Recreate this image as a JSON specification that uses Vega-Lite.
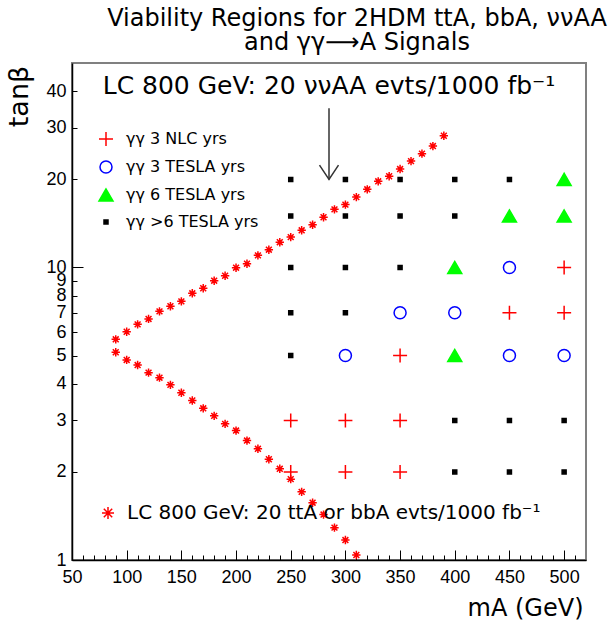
{
  "$schema": "https://vega.github.io/schema/vega-lite/v6.json",
  "width": 514,
  "height": 497,
  "autosize": {"type": "none"},
  "padding": {"left": 72, "top": 63, "right": 29, "bottom": 71},
  "title": {
    "text": ["Viability Regions for 2HDM ttA, bbA, ννAA", "and γγ⟶A Signals"],
    "fontSize": 24,
    "fontWeight": "normal",
    "font": "DejaVu Sans",
    "color": "black",
    "anchor": "middle",
    "dx": 28,
    "lineHeight": 24.5,
    "offset": 8
  },
  "datasets": {
    "grid": [
      {"m": 250, "tan": 20, "type": "γγ >6 TESLA yrs"},
      {"m": 300, "tan": 20, "type": "γγ >6 TESLA yrs"},
      {"m": 350, "tan": 20, "type": "γγ >6 TESLA yrs"},
      {"m": 400, "tan": 20, "type": "γγ >6 TESLA yrs"},
      {"m": 450, "tan": 20, "type": "γγ >6 TESLA yrs"},
      {"m": 500, "tan": 20, "type": "γγ 6 TESLA yrs"},
      {"m": 250, "tan": 15, "type": "γγ >6 TESLA yrs"},
      {"m": 300, "tan": 15, "type": "γγ >6 TESLA yrs"},
      {"m": 350, "tan": 15, "type": "γγ >6 TESLA yrs"},
      {"m": 400, "tan": 15, "type": "γγ >6 TESLA yrs"},
      {"m": 450, "tan": 15, "type": "γγ 6 TESLA yrs"},
      {"m": 500, "tan": 15, "type": "γγ 6 TESLA yrs"},
      {"m": 250, "tan": 10, "type": "γγ >6 TESLA yrs"},
      {"m": 300, "tan": 10, "type": "γγ >6 TESLA yrs"},
      {"m": 350, "tan": 10, "type": "γγ >6 TESLA yrs"},
      {"m": 400, "tan": 10, "type": "γγ 6 TESLA yrs"},
      {"m": 450, "tan": 10, "type": "γγ 3 TESLA yrs"},
      {"m": 500, "tan": 10, "type": "γγ 3 NLC yrs"},
      {"m": 250, "tan": 7, "type": "γγ >6 TESLA yrs"},
      {"m": 300, "tan": 7, "type": "γγ >6 TESLA yrs"},
      {"m": 350, "tan": 7, "type": "γγ 3 TESLA yrs"},
      {"m": 400, "tan": 7, "type": "γγ 3 TESLA yrs"},
      {"m": 450, "tan": 7, "type": "γγ 3 NLC yrs"},
      {"m": 500, "tan": 7, "type": "γγ 3 NLC yrs"},
      {"m": 250, "tan": 5, "type": "γγ >6 TESLA yrs"},
      {"m": 300, "tan": 5, "type": "γγ 3 TESLA yrs"},
      {"m": 350, "tan": 5, "type": "γγ 3 NLC yrs"},
      {"m": 400, "tan": 5, "type": "γγ 6 TESLA yrs"},
      {"m": 450, "tan": 5, "type": "γγ 3 TESLA yrs"},
      {"m": 500, "tan": 5, "type": "γγ 3 TESLA yrs"},
      {"m": 250, "tan": 3, "type": "γγ 3 NLC yrs"},
      {"m": 300, "tan": 3, "type": "γγ 3 NLC yrs"},
      {"m": 350, "tan": 3, "type": "γγ 3 NLC yrs"},
      {"m": 400, "tan": 3, "type": "γγ >6 TESLA yrs"},
      {"m": 450, "tan": 3, "type": "γγ >6 TESLA yrs"},
      {"m": 500, "tan": 3, "type": "γγ >6 TESLA yrs"},
      {"m": 250, "tan": 2, "type": "γγ 3 NLC yrs"},
      {"m": 300, "tan": 2, "type": "γγ 3 NLC yrs"},
      {"m": 350, "tan": 2, "type": "γγ 3 NLC yrs"},
      {"m": 400, "tan": 2, "type": "γγ >6 TESLA yrs"},
      {"m": 450, "tan": 2, "type": "γγ >6 TESLA yrs"},
      {"m": 500, "tan": 2, "type": "γγ >6 TESLA yrs"}
    ],
    "stars": [
      {"m": 90, "tan": 5.68, "series": "LC 800 GeV: 20 ttA or bbA evts/1000 fb⁻¹"},
      {"m": 100, "tan": 6.03, "series": "LC 800 GeV: 20 ttA or bbA evts/1000 fb⁻¹"},
      {"m": 110, "tan": 6.39, "series": "LC 800 GeV: 20 ttA or bbA evts/1000 fb⁻¹"},
      {"m": 120, "tan": 6.67, "series": "LC 800 GeV: 20 ttA or bbA evts/1000 fb⁻¹"},
      {"m": 130, "tan": 7.08, "series": "LC 800 GeV: 20 ttA or bbA evts/1000 fb⁻¹"},
      {"m": 140, "tan": 7.37, "series": "LC 800 GeV: 20 ttA or bbA evts/1000 fb⁻¹"},
      {"m": 150, "tan": 7.66, "series": "LC 800 GeV: 20 ttA or bbA evts/1000 fb⁻¹"},
      {"m": 160, "tan": 8.16, "series": "LC 800 GeV: 20 ttA or bbA evts/1000 fb⁻¹"},
      {"m": 170, "tan": 8.49, "series": "LC 800 GeV: 20 ttA or bbA evts/1000 fb⁻¹"},
      {"m": 180, "tan": 9.01, "series": "LC 800 GeV: 20 ttA or bbA evts/1000 fb⁻¹"},
      {"m": 190, "tan": 9.37, "series": "LC 800 GeV: 20 ttA or bbA evts/1000 fb⁻¹"},
      {"m": 200, "tan": 9.98, "series": "LC 800 GeV: 20 ttA or bbA evts/1000 fb⁻¹"},
      {"m": 210, "tan": 10.3, "series": "LC 800 GeV: 20 ttA or bbA evts/1000 fb⁻¹"},
      {"m": 220, "tan": 11.0, "series": "LC 800 GeV: 20 ttA or bbA evts/1000 fb⁻¹"},
      {"m": 230, "tan": 11.5, "series": "LC 800 GeV: 20 ttA or bbA evts/1000 fb⁻¹"},
      {"m": 240, "tan": 12.2, "series": "LC 800 GeV: 20 ttA or bbA evts/1000 fb⁻¹"},
      {"m": 250, "tan": 12.7, "series": "LC 800 GeV: 20 ttA or bbA evts/1000 fb⁻¹"},
      {"m": 260, "tan": 13.4, "series": "LC 800 GeV: 20 ttA or bbA evts/1000 fb⁻¹"},
      {"m": 270, "tan": 14.0, "series": "LC 800 GeV: 20 ttA or bbA evts/1000 fb⁻¹"},
      {"m": 280, "tan": 14.85, "series": "LC 800 GeV: 20 ttA or bbA evts/1000 fb⁻¹"},
      {"m": 290, "tan": 15.8, "series": "LC 800 GeV: 20 ttA or bbA evts/1000 fb⁻¹"},
      {"m": 300, "tan": 16.4, "series": "LC 800 GeV: 20 ttA or bbA evts/1000 fb⁻¹"},
      {"m": 310, "tan": 17.4, "series": "LC 800 GeV: 20 ttA or bbA evts/1000 fb⁻¹"},
      {"m": 320, "tan": 18.5, "series": "LC 800 GeV: 20 ttA or bbA evts/1000 fb⁻¹"},
      {"m": 330, "tan": 19.7, "series": "LC 800 GeV: 20 ttA or bbA evts/1000 fb⁻¹"},
      {"m": 340, "tan": 20.5, "series": "LC 800 GeV: 20 ttA or bbA evts/1000 fb⁻¹"},
      {"m": 350, "tan": 21.7, "series": "LC 800 GeV: 20 ttA or bbA evts/1000 fb⁻¹"},
      {"m": 360, "tan": 23.1, "series": "LC 800 GeV: 20 ttA or bbA evts/1000 fb⁻¹"},
      {"m": 370, "tan": 24.5, "series": "LC 800 GeV: 20 ttA or bbA evts/1000 fb⁻¹"},
      {"m": 380, "tan": 26.0, "series": "LC 800 GeV: 20 ttA or bbA evts/1000 fb⁻¹"},
      {"m": 390, "tan": 28.2, "series": "LC 800 GeV: 20 ttA or bbA evts/1000 fb⁻¹"},
      {"m": 90, "tan": 5.13, "series": "LC 800 GeV: 20 ttA or bbA evts/1000 fb⁻¹"},
      {"m": 100, "tan": 4.83, "series": "LC 800 GeV: 20 ttA or bbA evts/1000 fb⁻¹"},
      {"m": 110, "tan": 4.64, "series": "LC 800 GeV: 20 ttA or bbA evts/1000 fb⁻¹"},
      {"m": 120, "tan": 4.37, "series": "LC 800 GeV: 20 ttA or bbA evts/1000 fb⁻¹"},
      {"m": 130, "tan": 4.20, "series": "LC 800 GeV: 20 ttA or bbA evts/1000 fb⁻¹"},
      {"m": 140, "tan": 3.97, "series": "LC 800 GeV: 20 ttA or bbA evts/1000 fb⁻¹"},
      {"m": 150, "tan": 3.73, "series": "LC 800 GeV: 20 ttA or bbA evts/1000 fb⁻¹"},
      {"m": 160, "tan": 3.51, "series": "LC 800 GeV: 20 ttA or bbA evts/1000 fb⁻¹"},
      {"m": 170, "tan": 3.30, "series": "LC 800 GeV: 20 ttA or bbA evts/1000 fb⁻¹"},
      {"m": 180, "tan": 3.11, "series": "LC 800 GeV: 20 ttA or bbA evts/1000 fb⁻¹"},
      {"m": 190, "tan": 2.92, "series": "LC 800 GeV: 20 ttA or bbA evts/1000 fb⁻¹"},
      {"m": 200, "tan": 2.77, "series": "LC 800 GeV: 20 ttA or bbA evts/1000 fb⁻¹"},
      {"m": 210, "tan": 2.56, "series": "LC 800 GeV: 20 ttA or bbA evts/1000 fb⁻¹"},
      {"m": 220, "tan": 2.40, "series": "LC 800 GeV: 20 ttA or bbA evts/1000 fb⁻¹"},
      {"m": 230, "tan": 2.21, "series": "LC 800 GeV: 20 ttA or bbA evts/1000 fb⁻¹"},
      {"m": 240, "tan": 2.05, "series": "LC 800 GeV: 20 ttA or bbA evts/1000 fb⁻¹"},
      {"m": 250, "tan": 1.89, "series": "LC 800 GeV: 20 ttA or bbA evts/1000 fb⁻¹"},
      {"m": 260, "tan": 1.71, "series": "LC 800 GeV: 20 ttA or bbA evts/1000 fb⁻¹"},
      {"m": 270, "tan": 1.57, "series": "LC 800 GeV: 20 ttA or bbA evts/1000 fb⁻¹"},
      {"m": 280, "tan": 1.43, "series": "LC 800 GeV: 20 ttA or bbA evts/1000 fb⁻¹"},
      {"m": 290, "tan": 1.29, "series": "LC 800 GeV: 20 ttA or bbA evts/1000 fb⁻¹"},
      {"m": 300, "tan": 1.17, "series": "LC 800 GeV: 20 ttA or bbA evts/1000 fb⁻¹"},
      {"m": 310, "tan": 1.04, "series": "LC 800 GeV: 20 ttA or bbA evts/1000 fb⁻¹"}
    ],
    "arrow": [
      {"m": 285, "top": 35, "tip": 20, "label": "LC 800 GeV: 20 ννAA evts/1000 fb⁻¹"}
    ]
  },
  "layer": [
    {
      "data": {"name": "grid"},
      "mark": {"type": "point", "strokeWidth": 1.5, "opacity": 1},
      "encoding": {
        "x": {
          "field": "m", "type": "quantitative",
          "scale": {"domain": [50, 520], "nice": false, "zero": false},
          "axis": {
            "orient": "bottom",
            "values": [50, 100, 150, 200, 250, 300, 350, 400, 450, 500],
            "tickSize": -10,
            "labelPadding": 18,
            "labelFlush": false,
            "labelOverlap": false,
            "title": "mA (GeV)",
            "titleFont": "DejaVu Sans",
            "titleFontSize": 24,
            "titleAnchor": "end",
            "titleAlign": "right",
            "titleBaseline": "alphabetic",
            "titleX": 511,
            "titleY": 55
          }
        },
        "y": {
          "field": "tan", "type": "quantitative",
          "scale": {"type": "log", "domain": [1, 50], "nice": false, "zero": false},
          "axis": {
            "orient": "left",
            "values": [1, 2, 3, 4, 5, 6, 7, 8, 9, 10, 20, 30, 40],
            "format": "d",
            "tickSize": -5,
            "labelPadding": 11,
            "labelFlush": false,
            "labelOverlap": false,
            "title": "tanβ",
            "titleFont": "DejaVu Sans",
            "titleFontSize": 27,
            "titleAngle": -90,
            "titleAlign": "center",
            "titleBaseline": "alphabetic",
            "titleX": -45,
            "titleY": 33
          }
        },
        "shape": {
          "field": "type", "type": "nominal",
          "scale": {
            "domain": ["γγ 3 NLC yrs", "γγ 3 TESLA yrs", "γγ 6 TESLA yrs", "γγ >6 TESLA yrs"],
            "range": ["M-1,0H1M0,-1V1", "circle", "triangle-up", "square"]
          },
          "legend": {"orient": "none", "legendX": 26, "legendY": 68, "title": null, "labelFont": "DejaVu Sans", "labelFontSize": 16, "labelOffset": 12, "rowPadding": 9, "padding": 0, "symbolStrokeWidth": 1.5}
        },
        "stroke": {
          "field": "type", "type": "nominal",
          "scale": {
            "domain": ["γγ 3 NLC yrs", "γγ 3 TESLA yrs", "γγ 6 TESLA yrs", "γγ >6 TESLA yrs"],
            "range": ["#ff0000", "#0000ff", "#00ff00", "#000000"]
          },
          "legend": {"orient": "none", "legendX": 26, "legendY": 68, "title": null, "labelFont": "DejaVu Sans", "labelFontSize": 16, "labelOffset": 12, "rowPadding": 9, "padding": 0, "symbolStrokeWidth": 1.5}
        },
        "fill": {
          "field": "type", "type": "nominal",
          "scale": {
            "domain": ["γγ 3 NLC yrs", "γγ 3 TESLA yrs", "γγ 6 TESLA yrs", "γγ >6 TESLA yrs"],
            "range": ["transparent", "transparent", "#00ff00", "#000000"]
          },
          "legend": {"orient": "none", "legendX": 26, "legendY": 68, "title": null, "labelFont": "DejaVu Sans", "labelFontSize": 16, "labelOffset": 12, "rowPadding": 9, "padding": 0, "symbolStrokeWidth": 1.5}
        },
        "size": {
          "field": "type", "type": "nominal",
          "scale": {
            "type": "ordinal",
            "domain": ["γγ 3 NLC yrs", "γγ 3 TESLA yrs", "γγ 6 TESLA yrs", "γγ >6 TESLA yrs"],
            "range": [196, 144, 196, 16]
          },
          "legend": {"orient": "none", "legendX": 26, "legendY": 68, "title": null, "labelFont": "DejaVu Sans", "labelFontSize": 16, "labelOffset": 12, "rowPadding": 9, "padding": 0, "symbolStrokeWidth": 1.5}
        }
      }
    },
    {
      "data": {"name": "stars"},
      "mark": {"type": "point", "filled": false, "strokeWidth": 1.5, "size": 70, "opacity": 1},
      "encoding": {
        "x": {
          "field": "m", "type": "quantitative",
          "scale": {"domain": [50, 520], "nice": false, "zero": false},
          "axis": {
            "orient": "bottom",
            "values": [60, 70, 80, 90, 110, 120, 130, 140, 160, 170, 180, 190, 210, 220, 230, 240, 260, 270, 280, 290, 310, 320, 330, 340, 360, 370, 380, 390, 410, 420, 430, 440, 460, 470, 480, 490, 510],
            "tickSize": -5,
            "labels": false,
            "domain": false,
            "title": null
          }
        },
        "y": {
          "field": "tan", "type": "quantitative",
          "scale": {"type": "log", "domain": [1, 50], "nice": false, "zero": false},
          "axis": {
            "orient": "left",
            "values": [1, 10],
            "tickSize": -11,
            "labels": false,
            "domain": false,
            "title": null
          }
        },
        "shape": {
          "field": "series", "type": "nominal",
          "scale": {"range": ["M-1,0H1M0,-1V1M-0.7,-0.7L0.7,0.7M-0.7,0.7L0.7,-0.7"]},
          "legend": {"orient": "none", "legendX": 26, "legendY": 440, "title": null, "labelFont": "DejaVu Sans", "labelFontSize": 20, "labelOffset": 9, "padding": 0, "symbolSize": 144, "symbolStrokeWidth": 1.5}
        },
        "stroke": {
          "field": "series", "type": "nominal",
          "scale": {"range": ["#ff0000"]},
          "legend": {"orient": "none", "legendX": 26, "legendY": 440, "title": null, "labelFont": "DejaVu Sans", "labelFontSize": 20, "labelOffset": 9, "padding": 0, "symbolSize": 144, "symbolStrokeWidth": 1.5}
        }
      }
    },
    {
      "data": {"name": "arrow"},
      "mark": {"type": "rule", "color": "#333333", "strokeWidth": 1.5},
      "encoding": {
        "x": {"field": "m", "type": "quantitative", "scale": {"domain": [50, 520], "nice": false, "zero": false}, "axis": null},
        "y": {"field": "top", "type": "quantitative", "scale": {"type": "log", "domain": [1, 50], "nice": false, "zero": false}, "axis": null},
        "y2": {"field": "tip"}
      }
    },
    {
      "data": {"name": "arrow"},
      "mark": {"type": "point", "filled": false, "shape": "M-1,-1.5L0,0L1,-1.5", "size": 361, "stroke": "#333333", "strokeWidth": 1.5, "opacity": 1},
      "encoding": {
        "x": {"field": "m", "type": "quantitative", "scale": {"domain": [50, 520], "nice": false, "zero": false}, "axis": null},
        "y": {"field": "tip", "type": "quantitative", "scale": {"type": "log", "domain": [1, 50], "nice": false, "zero": false}, "axis": null}
      }
    },
    {
      "data": {"name": "arrow"},
      "mark": {"type": "text", "fontSize": 25, "font": "DejaVu Sans", "color": "black", "align": "center", "baseline": "alphabetic", "dy": -14},
      "encoding": {
        "x": {"field": "m", "type": "quantitative", "scale": {"domain": [50, 520], "nice": false, "zero": false}, "axis": null},
        "y": {"field": "top", "type": "quantitative", "scale": {"type": "log", "domain": [1, 50], "nice": false, "zero": false}, "axis": null},
        "text": {"field": "label"}
      }
    }
  ],
  "resolve": {
    "axis": {"x": "independent", "y": "independent"},
    "scale": {"shape": "independent", "stroke": "independent", "fill": "independent", "size": "independent"}
  },
  "config": {
    "font": "Liberation Sans",
    "view": {"stroke": "#808080", "strokeWidth": 2},
    "axis": {
      "domainColor": "black",
      "domainWidth": 1.5,
      "tickColor": "black",
      "tickWidth": 1,
      "labelColor": "black",
      "labelFont": "Liberation Sans",
      "labelFontSize": 18,
      "titleFont": "Liberation Sans",
      "titleFontWeight": "normal",
      "titleColor": "black",
      "grid": false
    },
    "legend": {"labelFont": "DejaVu Sans", "labelColor": "black", "labelLimit": 600}
  }
}
